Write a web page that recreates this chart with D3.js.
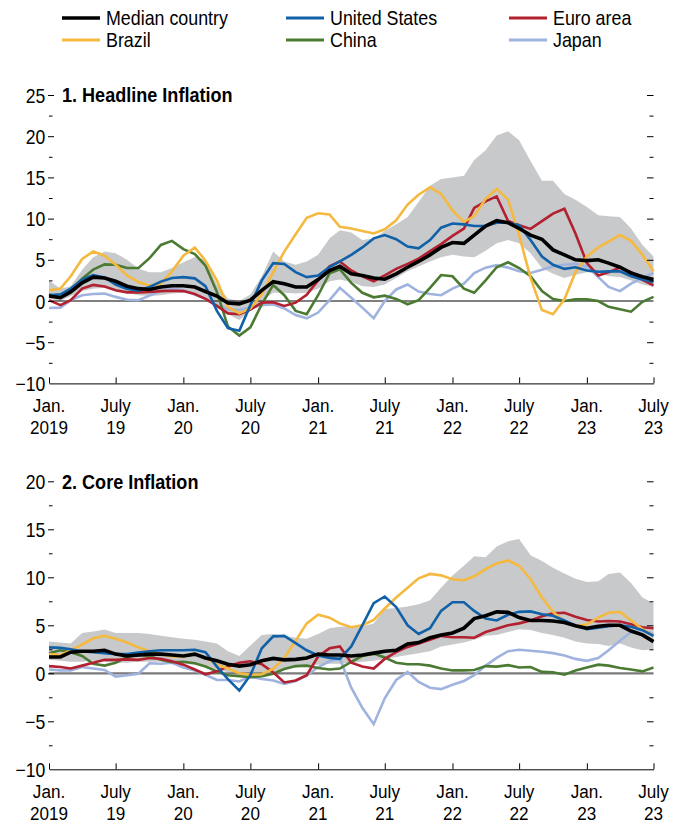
<!DOCTYPE html>
<html><head><meta charset="utf-8">
<script src="https://cdn.jsdelivr.net/npm/d3@7"></script>
<style>
body{margin:0;background:#fff;}
svg text{font-family:"Liberation Sans","Arial",sans-serif;fill:#000;}
</style></head><body>
<svg id="chart" width="679" height="825"></svg>
<script>
// ---------- DATA ----------
const months = d3.utcMonths(new Date(Date.UTC(2019,0,1)), new Date(Date.UTC(2023,7,1))); // Jan 2019 .. Jul 2023
const seriesNames = ["Median country","United States","Euro area","Brazil","China","Japan"];
const seriesColors = ["#000000","#1161a9","#b3202f","#f6b93f","#4b7b33","#9fb3de"];
const xTickTop = ["Jan.","July","Jan.","July","Jan.","July","Jan.","July","Jan.","July"];
const xTickBottom = ["2019","19","20","20","21","21","22","22","23","23"];
const yTicksHeadline = [-10,-5,0,5,10,15,20,25];
const yTicksCore = [-10,-5,0,5,10,15,20];

// Panel 1: headline inflation
const headMedian = [0.6,0.4,1.1,2.2,2.9,2.8,2.4,1.8,1.5,1.4,1.7,1.85,1.85,1.7,1.15,0.6,-0.25,-0.35,0.1,1.3,2.35,2.1,1.7,1.7,2.6,3.7,4.2,3.3,3.1,2.8,2.65,3.3,4.1,4.8,5.6,6.5,7.1,7.0,8.0,9.1,9.75,9.5,8.8,8.0,7.5,6.2,5.6,5.0,4.9,5.0,4.6,4.1,3.4,2.95,2.6];
const headUpper = [2.5,1.5,1.8,3.8,5.3,6.0,5.8,5.0,3.9,3.5,3.5,4.0,4.7,5.3,5.0,2.0,0.3,0.0,0.8,3.0,6.0,4.8,4.4,4.8,5.6,7.6,8.6,8.3,7.4,7.6,8.5,9.3,10.2,12.0,14.0,14.8,15.0,15.2,17.1,18.3,20.1,20.6,19.5,17.0,14.6,14.6,13.0,12.3,11.4,10.4,10.3,10.2,8.8,6.8,5.4];
const headLower = [0.3,0.0,0.6,1.2,1.5,1.6,1.4,1.0,0.7,0.6,0.7,0.9,1.0,1.0,0.5,-0.5,-1.6,-2.3,-1.2,0.0,1.0,1.0,0.9,1.0,1.5,2.4,2.6,2.3,1.8,1.7,2.0,2.8,3.6,4.2,4.8,5.3,5.6,5.4,5.3,6.1,7.0,7.4,7.0,5.8,4.0,3.3,2.8,3.2,3.5,3.4,3.0,2.9,2.5,2.0,1.7];
const headUS = [0.7,0.8,1.5,2.6,3.15,2.85,2.0,1.45,1.25,1.7,2.35,2.8,2.9,2.75,1.8,-1.2,-3.3,-3.6,-0.5,2.5,4.6,4.5,3.5,2.9,3.1,4.1,4.8,5.6,6.5,7.6,8.0,7.5,6.6,6.4,7.4,8.9,9.4,9.3,9.1,9.1,9.5,9.5,9.2,7.4,5.4,4.4,3.9,4.1,3.7,3.55,3.6,3.6,3.0,2.6,2.3];
const headEuro = [0.1,-0.5,0.1,1.5,1.95,1.75,1.3,1.05,1.05,1.1,1.2,1.25,1.2,0.85,0.25,-0.6,-1.5,-1.6,-1.05,-0.2,-0.15,-0.6,-0.2,0.75,2.5,4.2,4.8,3.7,3.0,2.4,3.1,3.9,4.5,5.15,6.05,6.9,7.9,8.8,11.3,12.1,12.7,9.7,9.2,8.75,9.7,10.6,11.2,8.2,4.6,3.1,3.5,4.05,3.5,2.55,1.9];
const headBrazil = [1.3,1.5,3.0,5.1,6.0,5.5,4.4,3.1,2.3,1.85,2.1,3.6,5.5,6.5,4.9,2.5,-0.7,-1.5,-0.9,0.8,3.5,6.0,8.1,10.1,10.65,10.5,9.0,8.8,8.5,8.2,8.7,9.8,11.7,12.9,13.8,13.0,11.0,9.6,10.3,12.4,13.6,12.3,8.0,2.8,-1.1,-1.6,0.2,3.5,5.4,6.5,7.2,8.0,7.3,5.6,3.6];
const headChina = [0.8,0.45,1.3,2.7,3.8,4.45,4.4,4.0,4.0,5.2,6.8,7.3,6.3,5.7,4.3,1.1,-3.1,-4.2,-3.2,-0.4,1.95,0.7,-1.2,-1.6,0.7,3.35,3.85,2.2,1.0,0.45,0.65,0.25,-0.4,0.1,1.6,3.15,3.0,1.5,1.0,2.5,4.1,4.7,4.0,3.0,1.2,0.25,0.0,0.2,0.2,0.0,-0.7,-1.0,-1.3,-0.1,0.5];
const headJapan = [-0.85,-0.8,0.1,0.7,0.85,0.9,0.5,0.15,0.1,0.65,1.25,1.5,1.3,0.8,0.3,-0.5,-1.0,-1.1,-0.8,-0.5,-0.4,-0.9,-1.7,-2.1,-1.4,0.1,1.6,0.4,-0.8,-2.1,0.0,1.4,2.0,1.15,0.85,0.7,1.5,2.1,3.4,4.05,4.35,4.05,3.6,3.4,3.8,4.2,4.4,4.5,4.2,2.9,1.7,1.2,2.1,2.8,3.4];

// Panel 2: core inflation
const coreMedian = [1.7,1.7,2.2,2.3,2.3,2.4,2.0,1.8,1.9,2.0,2.0,1.9,1.8,2.0,1.6,1.3,0.95,0.75,0.9,1.3,1.55,1.4,1.45,1.6,2.0,1.9,1.9,1.8,1.9,2.1,2.3,2.4,3.05,3.2,3.7,4.0,4.2,4.7,5.7,6.0,6.4,6.35,5.8,5.5,5.5,5.45,5.3,4.95,4.7,4.9,5.0,5.0,4.4,4.0,3.3];
const coreUpper = [3.3,3.2,3.1,4.2,4.35,4.55,4.2,4.2,4.2,4.1,3.9,3.75,3.6,3.5,3.3,3.1,2.3,1.8,2.9,4.0,4.1,3.9,3.7,3.6,4.1,4.7,4.85,4.9,4.9,5.2,6.7,6.8,6.95,7.2,7.6,8.9,10.2,11.2,12.2,12.1,13.2,13.75,14.0,12.3,11.7,11.0,10.4,9.85,9.5,9.6,10.35,10.5,9.4,7.9,7.3];
const coreLower = [1.4,1.3,1.2,1.2,1.3,1.2,1.1,1.1,1.2,1.2,1.2,1.1,1.0,0.9,0.7,0.4,0.1,-0.2,-0.3,-0.1,0.2,0.4,0.6,0.8,0.9,1.0,1.0,1.1,1.2,1.3,1.5,1.7,1.9,2.1,2.3,2.8,3.0,3.2,3.5,3.9,4.0,4.3,4.6,4.5,4.2,4.0,3.7,3.3,3.1,3.05,2.85,3.1,2.7,2.4,2.5];
const coreUS = [2.7,2.65,2.5,2.3,2.2,2.1,2.0,2.0,2.15,2.3,2.4,2.4,2.4,2.45,2.2,0.7,-0.6,-1.8,-0.2,2.6,3.85,3.9,3.15,2.4,1.85,1.6,1.5,2.8,5.0,7.3,8.0,6.9,5.0,4.1,4.7,6.5,7.4,7.4,6.5,5.7,5.5,6.1,6.4,6.45,6.15,6.0,5.5,4.95,4.6,4.75,4.9,5.0,4.85,4.5,3.9];
const coreEuro = [0.75,0.65,0.5,0.8,1.1,1.4,1.4,1.45,1.4,1.6,1.5,1.25,0.9,0.4,-0.1,0.2,0.7,1.1,1.25,0.95,0.1,-0.95,-0.75,-0.2,1.75,2.6,2.8,1.1,0.7,0.5,1.5,2.2,2.75,3.1,3.5,3.9,3.75,3.75,3.7,4.3,4.65,5.0,5.2,5.5,5.95,6.25,6.3,5.9,5.55,5.4,5.45,5.4,5.1,4.8,4.7];
const coreBrazil = [2.0,1.9,2.4,3.0,3.65,3.9,3.6,3.2,2.7,2.3,2.0,1.75,1.75,2.0,1.6,0.9,0.5,0.0,-0.15,-0.1,0.45,1.6,3.4,5.2,6.1,5.8,5.2,4.8,5.0,5.55,6.75,7.9,8.9,9.9,10.35,10.2,9.8,9.7,10.1,10.85,11.45,11.75,11.2,9.8,7.9,6.4,5.4,4.9,5.1,5.8,6.3,6.4,5.5,4.6,3.9];
const coreChina = [2.1,2.4,2.2,1.8,1.0,0.8,1.1,1.7,1.9,1.8,1.4,1.15,1.2,1.05,0.7,0.2,-0.2,-0.3,-0.4,-0.3,-0.05,0.45,0.75,0.8,0.55,0.4,0.5,1.2,1.8,2.05,1.65,1.1,0.95,0.95,0.8,0.5,0.3,0.3,0.35,0.75,0.7,0.85,0.6,0.65,0.15,0.1,-0.15,0.3,0.6,0.9,0.8,0.55,0.4,0.2,0.6];
const coreJapan = [0.4,0.3,0.3,0.65,0.5,0.35,-0.35,-0.2,-0.05,1.05,1.0,1.1,0.6,0.3,-0.15,-0.7,-0.7,-0.85,-0.35,-0.6,-0.75,-1.1,-0.8,-0.25,0.65,1.25,1.55,-1.5,-3.6,-5.3,-2.6,-0.7,0.15,-0.9,-1.5,-1.65,-1.2,-0.8,-0.2,0.8,1.6,2.3,2.45,2.35,2.25,2.1,1.85,1.5,1.3,1.6,2.4,3.4,4.3,4.5,4.1];

// ---------- DRAW ----------
const svg = d3.select("#chart");
const xLeft = 49, xRight = 653.5;
const x = d3.scaleUtc().domain([months[0], months[months.length-1]]).range([xLeft, xRight]);

// condensed text helper: Liberation Sans squeezed horizontally
function addText(parent, tx, ty, str, o){
  o = o || {};
  const g = parent.append("g").attr("transform", `translate(${tx},${ty}) scale(${o.sx || 0.86},1)`);
  return g.append("text").attr("x", 0).attr("y", 0)
    .attr("dy", o.dy == null ? "0.35em" : o.dy)
    .attr("text-anchor", o.anchor || "start")
    .attr("font-size", o.size || 21)
    .attr("font-weight", o.weight || "normal")
    .text(str);
}

// legend
const legendCols = [62, 286, 509], legendRows = [18, 40];
seriesNames.forEach((name, i) => {
  const lx = legendCols[i % 3], ly = legendRows[Math.floor(i / 3)];
  svg.append("line").attr("x1", lx).attr("x2", lx + 38).attr("y1", ly).attr("y2", ly)
    .attr("stroke", seriesColors[i]).attr("stroke-width", i === 0 ? 3.5 : 3);
  addText(svg, lx + 44, ly, name, {size: 21, sx: 0.85});
});

function fmt(v){ return v < 0 ? "\u2212" + Math.abs(v) : String(v); }

function drawPanel(cfg){
  const y = d3.scaleLinear().domain(cfg.domain).range([cfg.bottom, cfg.top]);
  const g = svg.append("g");
  const band = months.map((m, i) => ({m, lo: cfg.lower[i], hi: cfg.upper[i]}));
  g.append("path").datum(band)
    .attr("d", d3.area().x(d => x(d.m)).y0(d => y(d.lo)).y1(d => y(d.hi)))
    .attr("fill", "#c8c9cb");
  g.append("line").attr("x1", xLeft).attr("x2", xRight)
    .attr("y1", y(0)).attr("y2", y(0))
    .attr("stroke", cfg.zeroColor).attr("stroke-width", cfg.zeroWidth);
  const order = [5, 4, 2, 3, 1, 0];
  const line = d3.line().x((d, i) => x(months[i])).y(d => y(d));
  order.forEach(si => {
    g.append("path").datum(cfg.series[si]).attr("d", line)
      .attr("fill", "none").attr("stroke", seriesColors[si])
      .attr("stroke-width", si === 0 ? 3.6 : 2.6)
      .attr("stroke-linejoin", "miter").attr("stroke-miterlimit", 3);
  });
  // y axes
  const major = cfg.ticks;
  const minor = major.slice(0, -1).map(v => v + 2.5);
  const leftMajor = d3.axisLeft(y).tickValues(major)
    .tickSizeInner(-6).tickSizeOuter(0).tickPadding(3).tickFormat(fmt);
  const la = g.append("g").attr("transform", `translate(${xLeft - 1},0)`).call(leftMajor);
  la.select(".domain").remove();
  la.selectAll(".tick line").filter(d => d === cfg.domain[0]).remove();
  la.selectAll("text").attr("font-size", 20).attr("font-family", null)
    .attr("dy", "0.35em").attr("transform", "scale(0.88,1)");
  const lm = g.append("g").attr("transform", `translate(${xLeft},0)`)
    .call(d3.axisLeft(y).tickValues(minor).tickSizeInner(-3.5).tickSizeOuter(0).tickFormat(""));
  lm.select(".domain").remove();
  const ra = g.append("g").attr("transform", `translate(${xRight},0)`)
    .call(d3.axisRight(y).tickValues(major.filter(v => v > cfg.domain[0] && v !== 0))
      .tickSizeInner(-6.5).tickSizeOuter(0).tickFormat(""));
  ra.select(".domain").remove();
  const rm = g.append("g").attr("transform", `translate(${xRight},0)`)
    .call(d3.axisRight(y).tickValues(minor).tickSizeInner(-4).tickSizeOuter(0).tickFormat(""));
  rm.select(".domain").remove();
  // x axis
  const xTicks = d3.utcMonth.every(6).range(months[0], d3.utcMonth.offset(months[months.length-1], 1));
  const xa = g.append("g").attr("transform", `translate(0,${cfg.bottom})`)
    .call(d3.axisBottom(x).tickValues(xTicks).tickSizeInner(-6).tickSizeOuter(0).tickFormat(""));
  xa.selectAll("path,line").attr("stroke", "#000");
  xTicks.forEach((t, i) => {
    addText(g, x(t), cfg.bottom + 29, xTickTop[i], {size: 19, sx: 0.9, anchor: "middle", dy: 0});
    addText(g, x(t), cfg.bottom + 51, xTickBottom[i], {size: 19, sx: 0.9, anchor: "middle", dy: 0});
  });
  // title
  addText(g, 62, y(cfg.domain[1]), cfg.title, {size: 21, sx: 0.86, weight: "bold"});
}

drawPanel({
  title: "1. Headline Inflation", domain: [-10, 25], top: 95, bottom: 383.4, ticks: yTicksHeadline,
  upper: headUpper, lower: headLower, zeroColor: "#000", zeroWidth: 1,
  series: [headMedian, headUS, headEuro, headBrazil, headChina, headJapan]
});
drawPanel({
  title: "2. Core Inflation", domain: [-10, 20], top: 481.3, bottom: 769.3, ticks: yTicksCore,
  upper: coreUpper, lower: coreLower, zeroColor: "#7a7a7a", zeroWidth: 2.2,
  series: [coreMedian, coreUS, coreEuro, coreBrazil, coreChina, coreJapan]
});
</script>
</body></html>
